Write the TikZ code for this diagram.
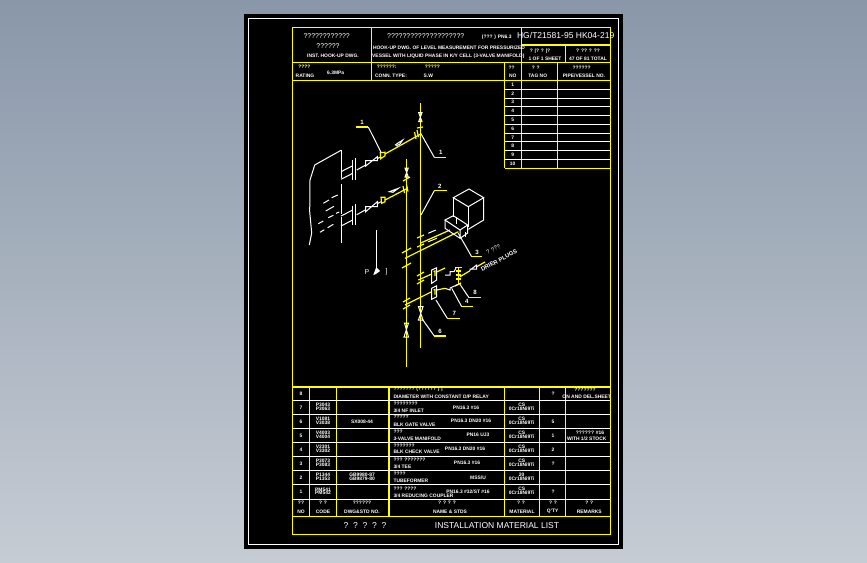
\documentclass[tikz,border=0pt]{standalone}
\usepackage{fontspec}
\setmainfont{Liberation Sans}
\definecolor{cadyellow}{HTML}{FFFF00}
\definecolor{sheettop}{HTML}{8997A9}
\definecolor{sheetbottom}{HTML}{C6CCD4}
\tikzset{every picture/.style={line width=0.75pt}}
\tikzset{
  frameline/.style={draw=cadyellow,line width=0.9pt},
  rowline/.style={draw=white,line width=0.75pt},
  pipeline/.style={draw=cadyellow,line width=0.9pt},
  whiteline/.style={draw=white,line width=0.75pt},
  tinytext/.style={text=white,inner sep=0pt,font=\fontsize{3.7}{4}\selectfont\bfseries},
  marktext/.style={text=white,inner sep=0pt,font=\fontsize{5.2}{6}\selectfont},
  digittext/.style={text=white,inner sep=0pt,font=\fontsize{4.6}{5}\selectfont\bfseries},
  bigtext/.style={text=white,inner sep=0pt,font=\fontsize{6.4}{7}\selectfont},
}
\begin{document}
\begin{tikzpicture}[x=0.75pt,y=0.75pt,yscale=-1,xscale=1]
\useasboundingbox (0,0) rectangle (867,562);

%Shape: Background
\shade[top color=sheettop,bottom color=sheetbottom] (0,0) rectangle (867,562);
\fill[black] (244,13.5) rectangle (622.5,548.5);
\draw[whiteline] (248.5,18.5) rectangle (618,544);

%Shape: Outer frame
\draw[frameline] (292.7,27.7) rectangle (610.3,534.5);

%Straight Lines: title block
\draw[frameline] (292.7,62.3) -- (610.3,62.3);
\draw[frameline] (292.7,80.3) -- (610.3,80.3);
\draw[frameline] (371.7,27.7) -- (371.7,80.3);
\draw[frameline] (521.7,27.7) -- (521.7,62.3);
\draw[frameline] (521.7,45) -- (610.3,45);
\draw[frameline] (565.7,45) -- (565.7,62.3);

%Straight Lines: tag table
\draw[frameline] (504.5,62.3) -- (504.5,168.3);
\draw[frameline] (521.3,62.3) -- (521.3,168.3);
\draw[frameline] (557.5,62.3) -- (557.5,168.3);
\draw[frameline] (504.5,168.3) -- (610.3,168.3);
\draw[rowline] (504.5,89.3) -- (610.3,89.3);
\draw[rowline] (504.5,98) -- (610.3,98);
\draw[rowline] (504.5,106.5) -- (610.3,106.5);
\draw[rowline] (504.5,115.3) -- (610.3,115.3);
\draw[rowline] (504.5,124) -- (610.3,124);
\draw[rowline] (504.5,133) -- (610.3,133);
\draw[rowline] (504.5,141.7) -- (610.3,141.7);
\draw[rowline] (504.5,150.7) -- (610.3,150.7);
\draw[rowline] (504.5,159.3) -- (610.3,159.3);

%Straight Lines: material list
\draw[frameline] (292.7,387) -- (610.3,387);
\draw[frameline] (292.7,516.3) -- (610.3,516.3);
\draw[frameline] (309.3,387) -- (309.3,516.3);
\draw[frameline] (336.3,387) -- (336.3,516.3);
\draw[frameline] (389,387) -- (389,516.3);
\draw[frameline] (504.3,387) -- (504.3,516.3);
\draw[frameline] (539.3,387) -- (539.3,516.3);
\draw[frameline] (565.3,387) -- (565.3,516.3);
\draw[rowline] (292.7,400.7) -- (610.3,400.7);
\draw[rowline] (292.7,414.7) -- (610.3,414.7);
\draw[rowline] (292.7,428.7) -- (610.3,428.7);
\draw[rowline] (292.7,442.7) -- (610.3,442.7);
\draw[rowline] (292.7,456.7) -- (610.3,456.7);
\draw[rowline] (292.7,470.7) -- (610.3,470.7);
\draw[rowline] (292.7,484.7) -- (610.3,484.7);
\draw[rowline] (292.7,499) -- (610.3,499);

%Shape: Vessel
\draw[whiteline] (341,150.3) -- (314.7,165) -- (310,180) -- (309.7,211.7) -- (311.7,233) -- (309.3,245);
\draw[whiteline] (341,150.3) -- (341,178);
\draw[whiteline] (341,184) -- (341,214);
\draw[whiteline] (341,217) -- (341,243);
\draw[whiteline] (323.3,203.3) -- (329,200);
\draw[whiteline] (331.7,197.7) -- (337.7,195);
\draw[whiteline] (325.7,211) -- (334,206.3);
\draw[whiteline] (328.3,217.7) -- (333.3,215.3);
\draw[whiteline] (336,213.3) -- (339.3,212);
\draw[whiteline] (318.3,223.7) -- (323.3,221);
\draw[whiteline] (327.7,227.7) -- (333.3,224.3);
\draw[whiteline] (320,232.3) -- (324.3,229.7);

%Straight Lines: nozzles and flanges
\draw[whiteline] (341,171.7) -- (352.7,165.7);
\draw[whiteline] (341,179.3) -- (352.7,173.3);
\draw[whiteline] (341,216) -- (352.7,210);
\draw[whiteline] (341,226) -- (352.7,220);
\draw[whiteline] (352.7,160) -- (352.7,180);
\draw[whiteline] (355,158.3) -- (355,180);
\draw[whiteline] (352.7,205.7) -- (352.7,225);
\draw[whiteline] (355,204.3) -- (355,225);
\draw[whiteline] (356.7,170) -- (365.7,165);
\draw[whiteline] (356.7,214.7) -- (365.7,209.7);

%Shape: Root valves
\draw[whiteline] (365.7,160.7) -- (377.3,160.7) -- (377.3,156.7) -- (365.7,166) -- cycle;
\draw[whiteline] (365.7,206.7) -- (377.3,206.7) -- (377.3,201.7) -- (365.7,211.7) -- cycle;
\draw[whiteline] (377.3,158.7) -- (381,156.7);
\draw[whiteline] (377.3,203.7) -- (381,201.7);
\draw[pipeline] (380.3,152.7) -- (380.7,158.7) -- (385,155.7) -- (385,152.2) -- cycle;
\draw[pipeline] (381,197.3) -- (385,197.3) -- (385,201.7) -- (381.7,203.3) -- cycle;

%Straight Lines: impulse lines
\draw[pipeline] (385,154) -- (420.7,134);
\draw[pipeline] (385,200) -- (406.7,188.7);
\draw[pipeline] (420.7,103.3) -- (420.7,348);
\draw[pipeline] (406.7,159.3) -- (406.7,366.7);
\draw[pipeline] (405,258.3) -- (458.3,231.7);
\draw[pipeline] (420,243.3) -- (450,230);
\draw[pipeline] (405,305) -- (431.7,291.7);
\draw[pipeline] (418.3,280) -- (431.7,274);
\draw[pipeline] (436.7,272) -- (445,268);
\draw[pipeline] (436.7,290) -- (445,288.3);
\draw[pipeline] (458.3,268.3) -- (458.3,285);
\draw[pipeline] (460,276.7) -- (470,270.7);
\draw[pipeline] (476.7,266.7) -- (485,262);

%Straight Lines: tube fittings
\draw[pipeline] (417,128) -- (423,127);
\draw[pipeline] (417,130) -- (418.5,137);
\draw[pipeline] (414.5,132) -- (416,139);
\draw[pipeline] (403,181) -- (410,177);
\draw[pipeline] (403,186) -- (404.5,193);
\draw[pipeline] (406.5,184.5) -- (408,191.5);
\draw[pipeline] (402,253) -- (411,248);
\draw[pipeline] (402,268) -- (411,263);
\draw[pipeline] (417,238) -- (424,235);
\draw[pipeline] (417,247) -- (424,244);
\draw[pipeline] (417,276) -- (424,272);
\draw[pipeline] (417,284) -- (424,280);
\draw[pipeline] (403,302) -- (410,298);
\draw[pipeline] (403,309) -- (410,305);
\draw[pipeline] (455,267.5) -- (462,267.5);
\draw[pipeline] (455,286) -- (461,283);
\draw[pipeline] (455.5,271) -- (461,271);
\draw[pipeline] (455.5,275) -- (461,275);
\draw[pipeline] (455.5,279) -- (461,279);

%Shape: Vertical valves
\draw[whiteline] (418.7,112.7) -- (422,121.7) -- (418.7,121.7) -- (422,112.7) -- cycle;
\draw[whiteline] (405,168) -- (408.3,177) -- (405,177) -- (408.3,168) -- cycle;
\draw[whiteline] (418.5,306.7) -- (423,320) -- (418.5,320) -- (423,306.7) -- cycle;
\draw[whiteline] (404.5,323) -- (408.5,337) -- (404,337) -- (408.5,323) -- cycle;
\draw[whiteline] (470,270) -- (476.7,265) -- (476.7,269) -- (470,269) -- cycle;

%Shape: Instrument
\draw[whiteline] (453.3,197.7) -- (469,189) -- (483.7,197.7) -- (468.3,206.7) -- cycle;
\draw[whiteline] (453.3,197.7) -- (453.3,216.7);
\draw[whiteline] (468.3,206.7) -- (468.3,227);
\draw[whiteline] (483.7,197.7) -- (483.7,220) -- (468.3,229.3);
\draw[whiteline] (445,220) -- (453.3,215.7) -- (467.7,225) -- (460,230) -- cycle;
\draw[whiteline] (445,220) -- (445,228.3) -- (460,238.3) -- (460,230);
\draw[whiteline] (467.7,225) -- (467.7,233) -- (460,238.3);
\draw[whiteline] (456,217) -- (456,224);
\draw[whiteline] (465,232) -- (465,237);
\draw[whiteline] (428.3,233.3) -- (435.7,230);
\draw[whiteline] (428.3,241.7) -- (436.7,238.3);
\draw[whiteline] (395,145) -- (402.7,140) -- (400,144) -- (396,146);
\draw[whiteline] (389.3,191.7) -- (398.3,188.3) -- (393,192.3) -- cycle;

%Shape: Manifold boxes
\draw[whiteline] (431.7,270) -- (436.7,267.7) -- (436.7,280) -- (431.7,283.3) -- cycle;
\draw[whiteline] (431.7,288.3) -- (436.7,285.7) -- (436.7,296.7) -- (431.7,299.3) -- cycle;
\draw[pipeline] (433.5,271.5) -- (435,271) -- (435,276);
\draw[pipeline] (433.5,290) -- (435,289.5) -- (435,294.5);
\draw[whiteline] (445,275) -- (450,275) -- (450,271.7) -- (454,271.7) -- (456,268);
\draw[whiteline] (445,288.3) -- (450,290) -- (450,288) -- (453,286.7) -- (458.3,284.3);

%Shape: Section mark
\draw[whiteline] (376.3,230) -- (376.3,270);
\fill[white] (373.3,275) -- (376.3,267) -- (380,271) -- (376,274) -- cycle;

%Straight Lines: leaders
\draw[whiteline] (368.3,127) -- (381,152.3);
\draw[pipeline] (356,127) -- (368.3,127);
\draw[whiteline] (420.7,133.3) -- (434.3,157.3);
\draw[pipeline] (434.3,157.3) -- (445.7,157.3);
\draw[whiteline] (434.3,190.7) -- (421,215);
\draw[pipeline] (434.3,190.7) -- (447,190.7);
\draw[whiteline] (458.3,233.3) -- (471.7,256.7);
\draw[pipeline] (471.7,256.7) -- (482.3,256.7);
\draw[whiteline] (451.7,288.3) -- (461.7,306.7);
\draw[pipeline] (461.7,306.7) -- (472.7,306.7);
\draw[whiteline] (459.3,283.3) -- (469,297.7);
\draw[pipeline] (469,297.7) -- (480.7,297.7);
\draw[whiteline] (436,300) -- (447.3,318.3);
\draw[pipeline] (447.3,318.3) -- (460,318.3);
\draw[whiteline] (421.7,318.3) -- (434.3,336);
\draw[pipeline] (434.3,336) -- (446,336);

% Text Node: drawing labels
\node[digittext] (lbla) at (362,122.5) {1};
\node[digittext] (lblb) at (440.7,152.7) {1};
\node[digittext] (lblc) at (439.7,186) {2};
\node[digittext] (lbld) at (477,252.3) {3};
\node[digittext] (lble) at (466.7,301.7) {4};
\node[digittext] (lblf) at (475,292.8) {8};
\node[digittext] (lblg) at (454.3,313.3) {7};
\node[digittext] (lblh) at (440,331.7) {6};
\node[marktext] (secp) at (367,271.7) {P};
\node[marktext] (secb) at (386.7,271.7) {]};
\node[tinytext,rotate=28,font=\fontsize{4.4}{5}\selectfont] (drnq) at (493.3,249.5) {? ???};
\node[tinytext,rotate=28,font=\fontsize{4.4}{5}\selectfont\bfseries] (drnt) at (499,260.5) {DRIER PLUGS};

% Text Node: title block
\node[marktext] (ttlq) at (326.7,35.7) {????????????};
\node[marktext] (ttlr) at (328,45.7) {??????};
\node[tinytext] (ttlk) at (333,55.3) {INST. HOOK-UP DWG.};
\node[marktext] (ttls) at (425.7,36) {????????????????????};
\node[tinytext] (ttlp) at (496.7,37.3) {(??? ) PN6.3};
\node[tinytext] (ttlh) at (449,48) {HOOK-UP DWG. OF LEVEL MEASUREMENT FOR PRESSURIZED};
\node[tinytext] (ttlv) at (448.3,56) {VESSEL WITH LIQUID PHASE IN K/Y CELL (3-VALVE MANIFOLD)};
\node[bigtext] (ttln) at (565.7,35.7) {HG/T21581-95 HK04-219};
\node[tinytext] (shtq) at (540,51) {?  |?  ?  |?};
\node[tinytext] (shts) at (545,58.3) {1 OF 1 SHEET};
\node[tinytext] (totq) at (588,51) {?  ??  ?  ??};
\node[tinytext] (tott) at (588,58.3) {47 OF 81 TOTAL};

% Text Node: header row
\node[tinytext] (ratq) at (304.3,66.7) {????};
\node[tinytext] (ratt) at (305,76) {RATING};
\node[tinytext] (ratv) at (335.7,72.3) {6.3MPa};
\node[tinytext] (conq) at (386.7,66.7) {??????:};
\node[tinytext] (cont) at (391,76) {CONN. TYPE:};
\node[tinytext] (typq) at (432.3,66.7) {?????};
\node[tinytext] (typv) at (428.3,76) {S.W};
\node[tinytext] (nohq) at (511.7,67.7) {??};
\node[tinytext] (noht) at (512.7,76) {NO};
\node[tinytext] (tagq) at (535.7,67.7) {?   ?};
\node[tinytext] (tagt) at (537.7,76) {TAG NO};
\node[tinytext] (pipq) at (581.7,67.7) {??????};
\node[tinytext] (pipt) at (584,76) {PIPE/VESSEL NO.};

% Text Node: tag table numbers
\node[tinytext] (taga) at (512.7,85) {1};
\node[tinytext] (tagb) at (512.7,93.6) {2};
\node[tinytext] (tagc) at (512.7,102.2) {3};
\node[tinytext] (tagd) at (512.7,110.9) {4};
\node[tinytext] (tage) at (512.7,119.6) {5};
\node[tinytext] (tagf) at (512.7,128.5) {6};
\node[tinytext] (tagg) at (512.7,137.3) {7};
\node[tinytext] (tagh) at (512.7,146.2) {8};
\node[tinytext] (tagi) at (512.7,155) {9};
\node[tinytext] (tagj) at (512.7,163.8) {10};

% Text Node: material list, row numbers
\node[tinytext] (noa) at (301,393.8) {8};
\node[tinytext] (nob) at (301,407.7) {7};
\node[tinytext] (noc) at (301,421.7) {6};
\node[tinytext] (nod) at (301,435.7) {5};
\node[tinytext] (noe) at (301,449.7) {4};
\node[tinytext] (nof) at (301,463.7) {3};
\node[tinytext] (nog) at (301,477.7) {2};
\node[tinytext] (noh) at (301,491.8) {1};

% Text Node: material list, codes
\node[tinytext] (codb) at (323,407.7) {\begin{tabular}{@{}c@{}}P3043\\[-1.2pt]P3063\end{tabular}};
\node[tinytext] (codc) at (323,421.7) {\begin{tabular}{@{}c@{}}V1081\\[-1.2pt]V3038\end{tabular}};
\node[tinytext] (codd) at (323,435.7) {\begin{tabular}{@{}c@{}}V4003\\[-1.2pt]V4004\end{tabular}};
\node[tinytext] (code) at (323,449.7) {\begin{tabular}{@{}c@{}}V2301\\[-1.2pt]V3302\end{tabular}};
\node[tinytext] (codf) at (323,463.7) {\begin{tabular}{@{}c@{}}P3073\\[-1.2pt]P3083\end{tabular}};
\node[tinytext] (codg) at (323,477.7) {\begin{tabular}{@{}c@{}}P1344\\[-1.2pt]P1353\end{tabular}};
\node[tinytext] (codh) at (323,491.8) {\begin{tabular}{@{}c@{}}PM541\\[-1.2pt]PM542\end{tabular}};

% Text Node: material list, standards
\node[tinytext] (stdc) at (362,421.7) {SX008-44};
\node[tinytext] (stdg) at (362,477.7) {\begin{tabular}{@{}c@{}}GB9980-87\\[-1.2pt]GB9879-80\end{tabular}};

% Text Node: material list, names
\node[tinytext,anchor=west] (nama) at (393,389.3) {??????? (?????? ) |};
\node[tinytext,anchor=west] (namb) at (393,396.7) {DIAMETER WITH CONSTANT D/P RELAY};
\node[tinytext,anchor=west] (namc) at (393,403.3) {????????};
\node[tinytext,anchor=west] (namd) at (393,411) {3/4 NF INLET};
\node[tinytext] (name) at (466,407.7) {PN16.3 \#16};
\node[tinytext,anchor=west] (namf) at (393,417) {?????};
\node[tinytext,anchor=west] (namg) at (393,425) {BLK GATE VALVE};
\node[tinytext] (namh) at (471,420.7) {PN16.3 DN20 \#16};
\node[tinytext,anchor=west] (nami) at (393,431.3) {???};
\node[tinytext,anchor=west] (namj) at (393,439) {3-VALVE MANIFOLD};
\node[tinytext] (namk) at (478,434.5) {PN16 UJ3};
\node[tinytext,anchor=west] (naml) at (393,445.3) {???????};
\node[tinytext,anchor=west] (namm) at (393,452) {BLK CHECK VALVE};
\node[tinytext] (namn) at (465,449) {PN16.3 DN20 \#16};
\node[tinytext,anchor=west] (namo) at (393,459.3) {??? ???????};
\node[tinytext,anchor=west] (namp) at (393,467) {3/4 TEE};
\node[tinytext] (namq) at (467,463) {PN16.3 \#16};
\node[tinytext,anchor=west] (namr) at (393,473.5) {????};
\node[tinytext,anchor=west] (nams) at (393,481) {TUBEFORMER};
\node[tinytext] (namt) at (478,477.3) {MSS/U};
\node[tinytext,anchor=west] (namu) at (393,488.3) {??? ????};
\node[tinytext,anchor=west] (namv) at (393,495.7) {3/4 REDUCING COUPLER};
\node[tinytext] (namw) at (468,491.7) {PN16.3 \#32/ST \#16};

% Text Node: material list, materials
\node[tinytext] (matb) at (521.7,407.5) {\begin{tabular}{@{}c@{}}CS\\[-1.2pt]0Cr18Ni9Ti\end{tabular}};
\node[tinytext] (matc) at (521.7,421.5) {\begin{tabular}{@{}c@{}}CS\\[-1.2pt]0Cr18Ni9Ti\end{tabular}};
\node[tinytext] (matd) at (521.7,435.5) {\begin{tabular}{@{}c@{}}CS\\[-1.2pt]0Cr18Ni9Ti\end{tabular}};
\node[tinytext] (mate) at (521.7,449.5) {\begin{tabular}{@{}c@{}}CS\\[-1.2pt]0Cr18Ni9Ti\end{tabular}};
\node[tinytext] (matf) at (521.7,463.5) {\begin{tabular}{@{}c@{}}CS\\[-1.2pt]0Cr18Ni9Ti\end{tabular}};
\node[tinytext] (matg) at (521.7,477.5) {\begin{tabular}{@{}c@{}}20\\[-1.2pt]0Cr18Ni9Ti\end{tabular}};
\node[tinytext] (math) at (521.7,491.6) {\begin{tabular}{@{}c@{}}CS\\[-1.2pt]0Cr18Ni9Ti\end{tabular}};

% Text Node: material list, quantities
\node[tinytext] (qtya) at (553,393.8) {?};
\node[tinytext] (qtyc) at (553,421.7) {5};
\node[tinytext] (qtyd) at (553,435.7) {1};
\node[tinytext] (qtye) at (553,449.7) {2};
\node[tinytext] (qtyf) at (553,463.7) {?};
\node[tinytext] (qtyh) at (553,491.8) {?};

% Text Node: material list, remarks
\node[tinytext] (rema) at (585,389.3) {???????};
\node[tinytext] (remb) at (586.7,396.7) {ON AND DEL.SHEET};
\node[tinytext] (remc) at (590,432.3) {?????? \#16};
\node[tinytext] (remd) at (586.7,439) {WITH 1/2 STOCK};

% Text Node: material list, column heads
\node[tinytext] (hdaq) at (301,502.3) {??};
\node[tinytext] (hdat) at (301,511.7) {NO};
\node[tinytext] (hdbq) at (323,502.3) {?  ?};
\node[tinytext] (hdbt) at (323,511.7) {CODE};
\node[tinytext] (hdcq) at (362,502.3) {??????};
\node[tinytext] (hdct) at (362,511.7) {DWG\&STD NO.};
\node[tinytext] (hddq) at (447,502.3) {?  ?  ?  ?};
\node[tinytext] (hddt) at (450,511.7) {NAME \& STDS};
\node[tinytext] (hdeq) at (521,502.3) {?  ?};
\node[tinytext] (hdet) at (522,511.7) {MATERIAL};
\node[tinytext] (hdfq) at (553,502.3) {?  ?};
\node[tinytext] (hdft) at (552.7,511.7) {Q'TY};
\node[tinytext] (hdgq) at (589.3,502.3) {?  ?};
\node[tinytext] (hdgt) at (589.3,511.7) {REMARKS};

% Text Node: list title
\node[bigtext] (lstq) at (365,525.7) {?\ \ ?\ \ ?\ \ ?\ \ ?};
\node[bigtext] (lstt) at (497,525.7) {INSTALLATION MATERIAL LIST};

\end{tikzpicture}
\end{document}
